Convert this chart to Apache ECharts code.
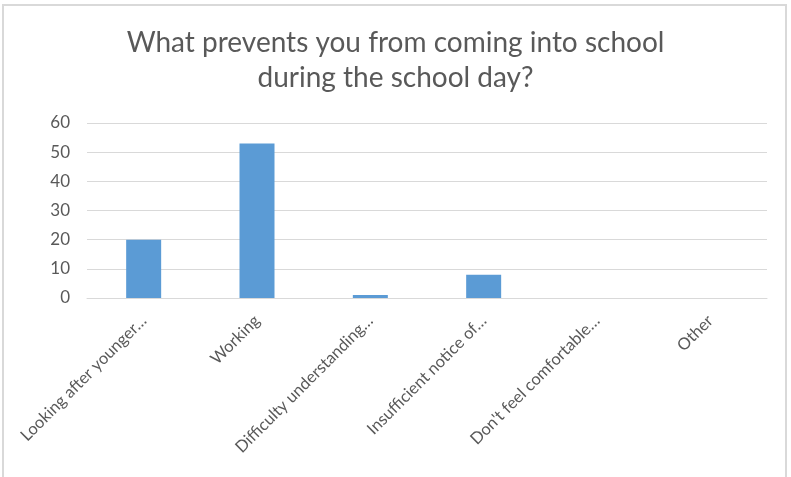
<!DOCTYPE html>
<html>
<head>
<meta charset="utf-8">
<script src="https://cdn.jsdelivr.net/npm/echarts@6/dist/echarts.min.js"></script>
<style>
html,body{margin:0;padding:0;background:#fff;overflow:hidden;}
#frame{position:absolute;left:2px;top:4px;width:785px;height:490px;border:2px solid #d9d9d9;box-sizing:border-box;}
#chart{position:absolute;left:0;top:0;width:791px;height:477px;}
</style>
</head>
<body>
<div id="frame"></div>
<div id="chart"></div>
<script>
const titleText = "What prevents you from coming into school\nduring the school day?";
const categories = [
  "Looking after younger…",
  "Working",
  "Difficulty understanding…",
  "Insufficient notice of…",
  "Don't feel comfortable…",
  "Other"
];
const values = [20, 53, 1, 8, 0, 0];
const yTicks = { min: 0, max: 60, interval: 10 };

const chart = echarts.init(document.getElementById('chart'), null, {renderer: 'canvas'});
chart.setOption({
  animation: false,
  backgroundColor: 'transparent',
  title: {
    text: titleText,
    left: 'center',
    top: 20,
    textStyle: {
      fontFamily: 'Lato',
      fontSize: 28,
      fontWeight: 'normal',
      color: '#595959',
      lineHeight: 35
    }
  },
  grid: { left: 87, right: 24, top: 123, bottom: 179 },
  xAxis: {
    type: 'category',
    data: categories,
    axisLine: { lineStyle: { color: '#d9d9d9', width: 1 } },
    axisTick: { show: false },
    axisLabel: {
      rotate: 45,
      interval: 0,
      margin: 20,
      fontFamily: 'Lato',
      fontSize: 16.5,
      color: '#595959'
    }
  },
  yAxis: {
    type: 'value',
    min: yTicks.min,
    max: yTicks.max,
    interval: yTicks.interval,
    axisLine: { show: false },
    axisTick: { show: false },
    splitLine: { lineStyle: { color: '#d9d9d9', width: 1 } },
    axisLabel: {
      margin: 17,
      fontFamily: 'Lato',
      fontSize: 17,
      color: '#595959'
    }
  },
  series: [{
    type: 'bar',
    data: values,
    barWidth: 35,
    itemStyle: { color: '#5b9bd5' }
  }]
});
</script>
</body>
</html>
